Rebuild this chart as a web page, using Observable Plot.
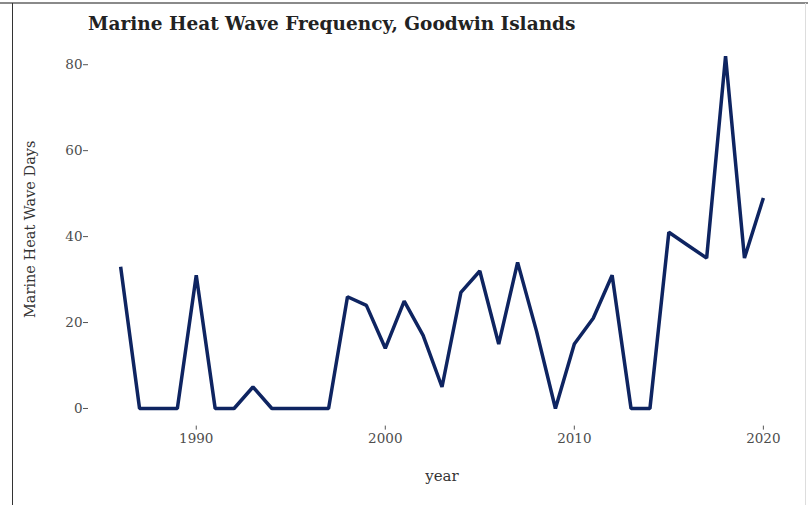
<!DOCTYPE html>
<html>
<head>
<meta charset="utf-8">
<script src="https://cdn.jsdelivr.net/npm/d3@7"></script>
<script src="https://cdn.jsdelivr.net/npm/@observablehq/plot@0.6"></script>
<style>
  html, body { margin: 0; padding: 0; background: #fff; }
  #wrap { position: relative; width: 808px; height: 505px; overflow: hidden; background: #fff; }
  #topline { position: absolute; left: 0; top: 2px; width: 808px; height: 2px; background: #8a8a8a; }
  #leftline { position: absolute; left: 12px; top: 3px; width: 1px; height: 502px; background: #333; }
  #rightline { position: absolute; left: 805px; top: 3px; width: 1px; height: 502px; background: #ddd; }
  #title { box-sizing: border-box; height: 36px; padding-top: 15px; padding-left: 88px; white-space: nowrap;
           font-family: "DejaVu Serif", serif; font-weight: bold; font-size: 18.5px; line-height: 18.5px; color: #222; }
  svg { display: block; }
</style>
</head>
<body>
<div id="wrap">
  <div id="topline"></div>
  <div id="leftline"></div>
  <div id="rightline"></div>
  <div id="title">Marine Heat Wave Frequency, Goodwin Islands</div>
  <div id="chart"></div>
</div>
<script>
const years = [1986,1987,1988,1989,1990,1991,1992,1993,1994,1995,1996,1997,1998,1999,2000,2001,2002,2003,2004,2005,2006,2007,2008,2009,2010,2011,2012,2013,2014,2015,2016,2017,2018,2019,2020];
const mhwDays = [33,0,0,0,31,0,0,5,0,0,0,0,26,24,14,25,17,5,27,32,15,34,18,0,15,21,31,0,0,41,38,35,82,35,49];
const xTicks = [1990, 2000, 2010, 2020];
const yTicks = [0, 20, 40, 60, 80];

const data = years.map((y, i) => ({year: y, days: mhwDays[i]}));

const font = "DejaVu Serif, serif";
const chart = Plot.plot({
  width: 808,
  height: 469,
  marginLeft: 88,
  marginRight: 13,
  marginTop: 2,
  marginBottom: 79.4,
  style: {fontFamily: font, background: "transparent"},
  x: {domain: [1984.3, 2021.7], axis: null},
  y: {domain: [-4.1, 86.1], axis: null},
  marks: [
    Plot.axisX({ticks: xTicks, tickFormat: d => String(d), tickSize: 4, tickPadding: 3,
                stroke: "#555", fill: "#4d4d4d", fontSize: 13.5, label: null}),
    Plot.axisY({ticks: yTicks, tickSize: 5, tickPadding: 1, stroke: "#555", fill: "#4d4d4d",
                fontSize: 13.5, label: null}),
    Plot.text(["year"], {frameAnchor: "bottom", dy: 55, fontSize: 15, fill: "#333", fontFamily: font}),
    Plot.text(["Marine Heat Wave Days"], {frameAnchor: "left", dx: -58, dy: -3, rotate: -90,
                textAnchor: "middle", fontSize: 14.5, fill: "#333", fontFamily: font}),
    Plot.line(data, {x: "year", y: "days", stroke: "#0e2461", strokeWidth: 3.5,
                     strokeLinejoin: "miter", strokeLinecap: "butt"})
  ]
});
document.getElementById("chart").appendChild(chart);
</script>
</body>
</html>
